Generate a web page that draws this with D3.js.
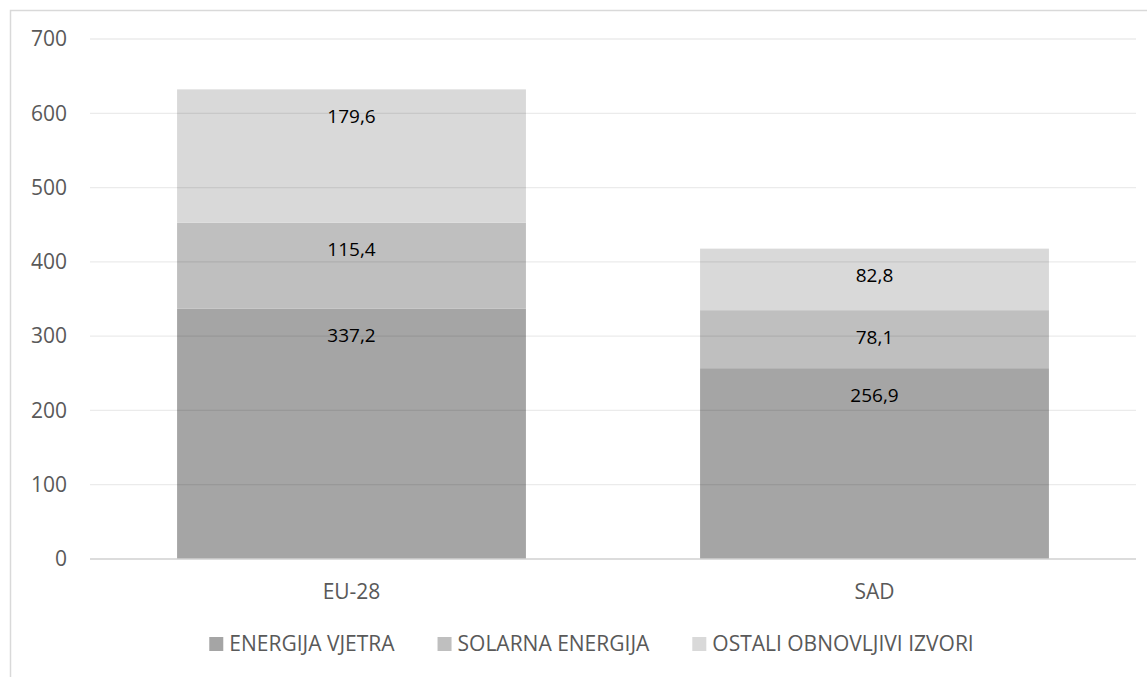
<!doctype html>
<html lang="hr">
<head>
<meta charset="utf-8">
<script src="https://d3js.org/d3.v7.min.js"></script>
<title>Obnovljivi izvori</title>
<style>
  body { margin: 0; background: #fff; }
  svg { display: block; font-family: "Open Sans", sans-serif; }
</style>
</head>
<body>
<svg id="chart"></svg>
<script>
  // data
  const categories = ["EU-28", "SAD"];
  const seriesNames = ["ENERGIJA VJETRA", "SOLARNA ENERGIJA", "OSTALI OBNOVLJIVI IZVORI"];
  const vjetar = [337.2, 256.9];
  const solar = [115.4, 78.1];
  const ostali = [179.6, 82.8];
  const yTicks = [0, 100, 200, 300, 400, 500, 600, 700];
  const colors = ["#a5a5a5", "#bfbfbf", "#d9d9d9"];

  const width = 1147, height = 677;
  const plot = { left: 90, right: 1136, top: 39, bottom: 559 };

  const svg = d3.select("#chart").attr("width", width).attr("height", height);

  // chart border
  svg.append("rect")
    .attr("x", 10.5).attr("y", 10.5)
    .attr("width", width + 20).attr("height", height + 20)
    .attr("fill", "none").attr("stroke", "#d9d9d9").attr("stroke-width", 1.5);

  const rows = categories.map((c, i) => ({ cat: c, s0: vjetar[i], s1: solar[i], s2: ostali[i] }));
  const stacked = d3.stack().keys(["s0", "s1", "s2"])(rows);

  const xScale = d3.scaleBand().domain(categories)
    .range([plot.left, plot.right]).paddingInner(0.333).paddingOuter(0.1665);
  const yScale = d3.scaleLinear().domain([0, 700]).range([plot.bottom, plot.top]);

  // bars
  const layers = svg.append("g").selectAll("g")
    .data(stacked).join("g")
    .attr("fill", (d, i) => colors[i]);

  layers.selectAll("rect")
    .data(d => d).join("rect")
    .attr("x", d => xScale(d.data.cat))
    .attr("width", xScale.bandwidth())
    .attr("y", d => yScale(d[1]))
    .attr("height", d => yScale(d[0]) - yScale(d[1]));

  // gridlines (drawn over the bars, faint)
  svg.append("g").selectAll("line")
    .data(yTicks.filter(t => t > 0)).join("line")
    .attr("x1", plot.left).attr("x2", plot.right)
    .attr("y1", d => yScale(d)).attr("y2", d => yScale(d))
    .attr("stroke", "#000").attr("stroke-opacity", 0.08).attr("stroke-width", 1.3);

  // zero line
  svg.append("line")
    .attr("x1", plot.left).attr("x2", plot.right)
    .attr("y1", yScale(0)).attr("y2", yScale(0))
    .attr("stroke", "#d0d0d0").attr("stroke-width", 1.3);

  // y axis labels
  const yAxis = svg.append("g")
    .attr("transform", `translate(${plot.left}, 0)`)
    .call(d3.axisLeft(yScale).tickValues(yTicks).tickSize(0).tickPadding(23));
  yAxis.select(".domain").remove();
  yAxis.selectAll("text")
    .attr("font-family", "Open Sans").attr("font-size", 21).attr("fill", "#595959");

  // x axis labels
  const xAxis = svg.append("g")
    .attr("transform", `translate(0, ${plot.bottom})`)
    .call(d3.axisBottom(xScale).tickSize(0).tickPadding(25));
  xAxis.select(".domain").remove();
  xAxis.selectAll("text")
    .attr("font-family", "Open Sans").attr("font-size", 21).attr("fill", "#595959");

  // value labels, inside end of each segment
  const fmt = v => d3.format(".1f")(v).replace(".", ",");
  layers.selectAll("text")
    .data(d => d).join("text")
    .attr("x", d => xScale(d.data.cat) + xScale.bandwidth() / 2)
    .attr("y", d => yScale(d[1]) + 27)
    .attr("dy", "0.35em")
    .attr("text-anchor", "middle")
    .attr("font-size", 19)
    .attr("fill", "#000")
    .text(d => fmt(d[1] - d[0]));

  // legend
  const legend = svg.append("g");
  const items = legend.selectAll("g").data(seriesNames).join("g");
  items.append("rect")
    .attr("width", 14).attr("height", 14).attr("y", -7)
    .attr("fill", (d, i) => colors[i]);
  items.append("text")
    .attr("x", 20).attr("dy", "0.35em")
    .attr("font-size", 21).attr("fill", "#595959")
    .text(d => d);

  let offset = 0;
  const widths = [];
  items.each(function () {
    const w = 20 + d3.select(this).select("text").node().getComputedTextLength();
    widths.push(w);
  });
  items.attr("transform", (d, i) => {
    const t = `translate(${offset}, 0)`;
    offset += widths[i] + 43;
    return t;
  });
  const total = offset - 43;
  legend.attr("transform", `translate(${591.5 - total / 2}, 644)`);
</script>
</body>
</html>
